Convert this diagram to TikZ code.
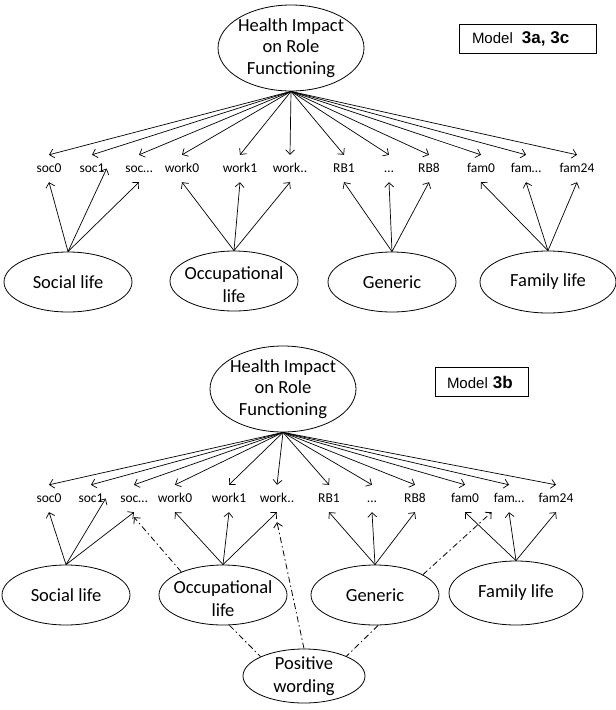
\documentclass[tikz,border=0pt]{standalone}
\usepackage{fontspec}
\setmainfont{Carlito}
\newfontfamily\boxfont{Liberation Sans}
\usetikzlibrary{arrows.meta,shapes.geometric}
\tikzset{
  general/.style = {ellipse, draw, line width=0.8pt, inner sep=-6pt,
                    minimum width=146pt, minimum height=86pt, align=center,
                    font=\fontsize{18.5}{21.5}\selectfont},
  factor/.style  = {ellipse, draw, line width=0.8pt, inner sep=-6pt,
                    minimum width=128pt, minimum height=60pt, align=center,
                    font=\fontsize{18.5}{23}\selectfont},
  occ/.style     = {text height=44pt},
  item/.style    = {inner xsep=2pt, inner ysep=0pt, minimum height=27pt,
                    text height=9.5pt, text depth=2.5pt,
                    font=\fontsize{13.5}{15}\selectfont},
  modelbox/.style= {rectangle, draw, line width=0.8pt, inner ysep=0pt,
                    minimum height=29pt, align=left,
                    font=\boxfont\fontsize{15}{18}\selectfont},
  arr/.style     = {-{Straight Barb[length=4.5pt,width=9pt]}, line width=0.7pt},
  method/.style  = {arr, line width=0.8pt, dash pattern=on 6pt off 3pt on 1.5pt off 3pt},
  methodline/.style = {line width=0.8pt, dash pattern=on 6pt off 3pt on 1.5pt off 3pt},
}
\newcommand{\bigbold}[1]{{\fontsize{17}{18}\selectfont\bfseries #1}}

\begin{document}
\begin{tikzpicture}[x=1pt,y=-1pt]
  \useasboundingbox (0,0) rectangle (616,710);

  % ---- model 3a, 3c ----
  \node[general] (hirfa) at (291,48) {Health Impact\\on Role\\Functioning};
  \node[modelbox, text width=111pt, inner xsep=13pt] (boxa) at (527.5,38.5)
       {Model\hspace{9pt}\bigbold{3a, 3c}};

  \node[item] (soc0a)  at (49,168.5)  {soc0};
  \node[item] (soc1a)  at (92,168.5)  {soc1};
  \node[item] (socxa)  at (139,168.5) {soc\ldots};
  \node[item] (work0a) at (182,168.5) {work0};
  \node[item] (work1a) at (240,168.5) {work1};
  \node[item] (workxa) at (290,168.5) {work..};
  \node[item] (rb1a)   at (344,168.5) {RB1};
  \node[item] (rbxa)   at (389,168.5) {\ldots};
  \node[item] (rb8a)   at (429,168.5) {RB8};
  \node[item] (fam0a)  at (481,168.5) {fam0};
  \node[item] (famxa)  at (526,168.5) {fam\ldots};
  \node[item] (fam24a) at (577,168.5) {fam24};

  \node[factor] (soca) at (68,282) {Social life};
  \node[factor, occ] (occa) at (234,281) {Occupational\\life};
  \node[factor] (gena) at (392,282) {Generic};
  \node[factor, minimum width=136pt, minimum height=62pt] (fama) at (548,282) {Family life};

  \draw (hirfa.south) edge[arr] (soc0a.north) edge[arr] (soc1a.north)
        edge[arr] (socxa.north) edge[arr] (work0a.north) edge[arr] (work1a.north)
        edge[arr] (workxa.north) edge[arr] (rb1a.north) edge[arr] (rbxa.north)
        edge[arr] (rb8a.north) edge[arr] (fam0a.north) edge[arr] (famxa.north)
        edge[arr] (fam24a.north);
  \draw (soca.north) edge[arr] (soc0a.south) edge[arr] (soc1a.east) edge[arr] (socxa.south);
  \draw (occa.north) edge[arr] (work0a.south) edge[arr] (work1a.south) edge[arr] (workxa.south);
  \draw (gena.north) edge[arr] (rb1a.south) edge[arr] (rbxa.south) edge[arr] (rb8a.south);
  \draw (fama.north) edge[arr] (fam0a.south) edge[arr] (famxa.south) edge[arr] (fam24a.south);

  % ---- model 3b ----
  \node[general] (hirfb) at (283,389) {Health Impact\\on Role\\Functioning};
  \node[modelbox, text width=69pt, inner xsep=12pt] (boxb) at (481.5,382)
       {Model \bigbold{3b}};

  \node[item] (soc0b)  at (49,498.5)  {soc0};
  \node[item] (soc1b)  at (91,498.5)  {soc1};
  \node[item] (socxb)  at (134,498.5) {soc\ldots};
  \node[item] (work0b) at (175,498.5) {work0};
  \node[item] (work1b) at (229,498.5) {work1};
  \node[item] (workxb) at (277,498.5) {work..};
  \node[item] (rb1b)   at (329,498.5) {RB1};
  \node[item] (rbxb)   at (372,498.5) {\ldots};
  \node[item] (rb8b)   at (415,498.5) {RB8};
  \node[item] (fam0b)  at (465,498.5) {fam0};
  \node[item] (famxb)  at (509,498.5) {fam\ldots};
  \node[item] (fam24b) at (556,498.5) {fam24};

  \node[factor] (socb) at (66,595) {Social life};
  \node[factor, occ] (occb) at (223,595) {Occupational\\life};
  \node[factor] (genb) at (375,595) {Generic};
  \node[factor, minimum width=134pt, minimum height=64pt] (famb) at (516,593) {Family life};
  \node[factor, minimum width=122pt, minimum height=54pt] (posb) at (304,676) {Positive\\wording};

  \draw (hirfb.south) edge[arr] (soc0b.north) edge[arr] (soc1b.north)
        edge[arr] (socxb.north) edge[arr] (work0b.north) edge[arr] (work1b.north)
        edge[arr] (workxb.north) edge[arr] (rb1b.north) edge[arr] (rbxb.north)
        edge[arr] (rb8b.north) edge[arr] (fam0b.north) edge[arr] (famxb.north)
        edge[arr] (fam24b.north);
  \draw (socb.north) edge[arr] (soc0b.south) edge[arr] (soc1b.east) edge[arr] (socxb.south);
  \draw (occb.north) edge[arr] (work0b.south) edge[arr] (work1b.south) edge[arr] (workxb.south);
  \draw (genb.north) edge[arr] (rb1b.south) edge[arr] (rbxb.south) edge[arr] (rb8b.south);
  \draw (famb.north) edge[arr] (fam0b.south) edge[arr] (famxb.south) edge[arr] (fam24b.south);

  % positive wording method factor
  \draw[method] (occb.151) -- ([yshift=-5pt]socxb.south);
  \draw[method] (posb.north) -- ([yshift=-10pt]workxb.south);
  \draw[methodline] (occb.-78) -- (posb.156);
  \draw[methodline] (genb.-84) -- (posb.25);
  \draw[method] (genb.23) -- (famxb.south west);
\end{tikzpicture}
\end{document}
